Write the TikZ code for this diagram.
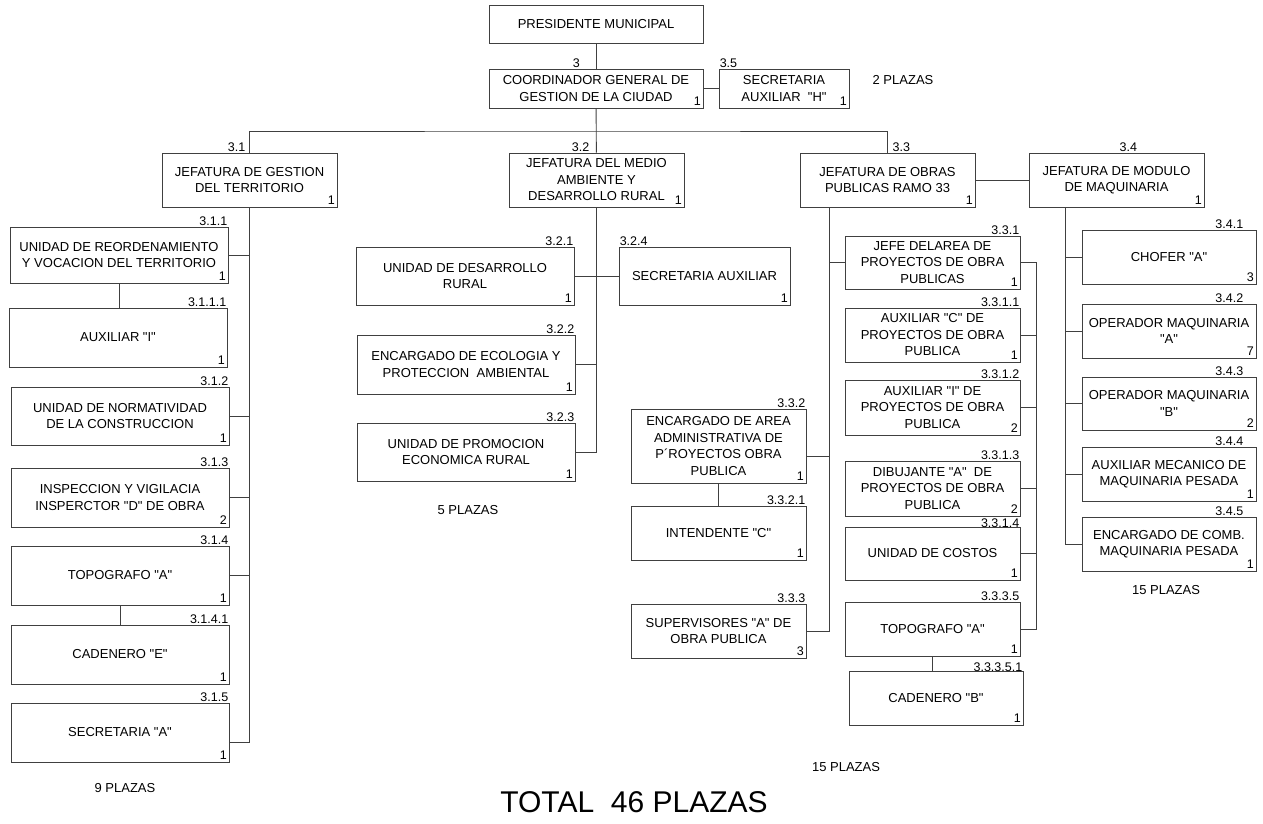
\documentclass[tikz,border=0pt]{standalone}
\usepackage{fontspec}
\setmainfont[Ligatures=TeXOff]{Liberation Sans}
\newcommand\cajafont{\fontsize{13}{16.5}\selectfont}
\newcommand\clavefont{\fontsize{12.5}{14}\selectfont}

\begin{document}
\begin{tikzpicture}[x=1pt,y=-1pt,
        caja/.style={draw=black!75,rectangle,line width=0.9pt,inner sep=2pt,align=center,font=\cajafont},
        ancha/.style={caja,minimum width=218pt,minimum height=58pt},
        corta/.style={caja,minimum width=175pt,minimum height=54pt},
        num/.style={anchor=south east,inner sep=2.5pt,font=\clavefont},
        clave/.style={anchor=south east,inner sep=1pt,font=\clavefont},
        nota/.style={font=\cajafont},
        linea/.style={draw=black!75,line width=0.9pt}
      ]
      \useasboundingbox (0,0) rectangle (1263,824);

      \node[caja,minimum width=214pt,minimum height=38pt] (pres) at (596,24) {PRESIDENTE MUNICIPAL};
      \node[caja,minimum width=214pt,minimum height=39pt,label={[num]south east:1},label={[clave,xshift=-15pt]north:3}] (coord) at (596,88.5) {COORDINADOR GENERAL DE\\GESTION DE LA CIUDAD};
      \node[caja,minimum width=130pt,minimum height=39pt,label={[num]south east:1},label={[clave,anchor=south west]north west:3.5}] (sech) at (784,88.5) {SECRETARIA\\AUXILIAR \ "H"};
      \node[nota] (p2) at (903,80) {2 PLAZAS};

      \node[corta,label={[num]south east:1},label={[clave,xshift=-3pt]north:3.1}] (j31) at (249.5,180) {JEFATURA DE GESTION\\DEL TERRITORIO};
      \node[corta,label={[num]south east:1},label={[clave,xshift=-6pt]north:3.2}] (j32) at (596.5,180) {JEFATURA DEL MEDIO\\AMBIENTE Y\\DESARROLLO RURAL};
      \node[corta,label={[num]south east:1},label={[clave,anchor=south west,xshift=4pt]north:3.3}] (j33) at (887.5,180) {JEFATURA DE OBRAS\\PUBLICAS RAMO 33};
      \node[corta,label={[num]south east:1},label={[clave,anchor=south west,xshift=2pt]north:3.4}] (j34) at (1116.5,180) {JEFATURA DE MODULO\\DE MAQUINARIA};

      \node[ancha,minimum height=56pt,label={[num]south east:1},label={[clave]north east:3.1.1}] (u311) at (119,255) {UNIDAD DE REORDENAMIENTO\\Y VOCACION DEL TERRITORIO};
      \node[ancha,minimum height=59pt,label={[num]south east:1},label={[clave]north east:3.1.1.1}] (u3111) at (118,337.5) {AUXILIAR "I"};
      \node[ancha,label={[num]south east:1},label={[clave]north east:3.1.2}] (u312) at (120,416) {UNIDAD DE NORMATIVIDAD\\DE LA CONSTRUCCION};
      \node[ancha,minimum height=59pt,label={[num]south east:2},label={[clave]north east:3.1.3}] (u313) at (120,497.5) {INSPECCION Y VIGILACIA\\INSPERCTOR "D" DE OBRA\hspace{8pt}};
      \node[ancha,minimum height=59pt,label={[num]south east:1},label={[clave]north east:3.1.4}] (u314) at (120,575.5) {TOPOGRAFO "A"};
      \node[ancha,minimum height=59pt,label={[num]south east:1},label={[clave]north east:3.1.4.1}] (u3141) at (120,654.5) {CADENERO "E"};
      \node[ancha,minimum height=59pt,label={[num]south east:1},label={[clave]north east:3.1.5}] (u315) at (120,732.5) {SECRETARIA "A"};
      \node[nota] (p9) at (125,788) {9 PLAZAS};

      \node[ancha,label={[num]south east:1},label={[clave]north east:3.2.1}] (u321) at (465,276) {UNIDAD DE DESARROLLO\\RURAL};
      \node[caja,minimum width=171pt,minimum height=58pt,label={[num]south east:1},label={[clave,anchor=south west]north west:3.2.4}] (u324) at (704.5,276) {SECRETARIA AUXILIAR};
      \node[ancha,minimum height=59pt,label={[num]south east:1},label={[clave]north east:3.2.2}] (u322) at (466,364.5) {ENCARGADO DE ECOLOGIA Y\\PROTECCION \ AMBIENTAL\hspace{6pt}};
      \node[ancha,label={[num]south east:1},label={[clave]north east:3.2.3}] (u323) at (466,452) {UNIDAD DE PROMOCION\\ECONOMICA RURAL};
      \node[nota] (p5) at (468,510) {5 PLAZAS};

      \node[corta,minimum height=74pt,label={[num]south east:1},label={[clave]north east:3.3.2}] (u332) at (718.5,446) {ENCARGADO DE AREA\\ADMINISTRATIVA DE\\P´ROYECTOS OBRA\\PUBLICA};
      \node[corta,label={[num]south east:1},label={[clave]north east:3.3.2.1}] (u3321) at (718.5,533) {INTENDENTE "C"};
      \node[corta,label={[num]south east:3},label={[clave]north east:3.3.3}] (u333) at (718.5,631) {SUPERVISORES "A" DE\\OBRA PUBLICA};

      \node[corta,minimum height=53pt,label={[num]south east:1},label={[clave]north east:3.3.1}] (u331) at (932.5,262.5) {JEFE DELAREA DE\\PROYECTOS DE OBRA\\PUBLICAS};
      \node[corta,label={[num]south east:1},label={[clave]north east:3.3.1.1}] (u3311) at (932.5,335) {AUXILIAR "C" DE\\PROYECTOS DE OBRA\\PUBLICA};
      \node[corta,minimum height=55pt,label={[num]south east:2},label={[clave]north east:3.3.1.2}] (u3312) at (932.5,407.5) {AUXILIAR "I" DE\\PROYECTOS DE OBRA\\PUBLICA};
      \node[corta,minimum height=55pt,label={[num]south east:2},label={[clave]north east:3.3.1.3}] (u3313) at (932.5,488.5) {DIBUJANTE "A" \ DE\\PROYECTOS DE OBRA\\PUBLICA};
      \node[corta,minimum height=53pt,label={[num]south east:1},label={[clave,yshift=-2pt]north east:3.3.1.4}] (u3314) at (932.5,553.5) {UNIDAD DE COSTOS};
      \node[corta,label={[num]south east:1},label={[clave]north east:3.3.3.5}] (u3335) at (932.5,629) {TOPOGRAFO "A"};
      \node[caja,minimum width=174pt,minimum height=54pt,label={[num]south east:1},label={[clave,yshift=-2pt]north east:3.3.3.5.1}] (u33351) at (936,698) {CADENERO "B"};
      \node[nota] (p15a) at (846,767) {15 PLAZAS};

      \node[caja,minimum width=174pt,minimum height=54pt,label={[num]south east:3},label={[clave,xshift=-12pt]north east:3.4.1}] (u341) at (1169,257) {CHOFER "A"};
      \node[caja,minimum width=174pt,minimum height=54pt,label={[num]south east:7},label={[clave,xshift=-12pt]north east:3.4.2}] (u342) at (1169,331) {OPERADOR MAQUINARIA\\"A"};
      \node[caja,minimum width=174pt,minimum height=53pt,label={[num]south east:2},label={[clave,xshift=-12pt]north east:3.4.3}] (u343) at (1169,403.5) {OPERADOR MAQUINARIA\\"B"};
      \node[caja,minimum width=174pt,minimum height=54pt,label={[num]south east:1},label={[clave,xshift=-12pt]north east:3.4.4}] (u344) at (1169,474) {AUXILIAR MECANICO DE\\MAQUINARIA PESADA};
      \node[caja,minimum width=174pt,minimum height=54pt,label={[num]south east:1},label={[clave,xshift=-12pt]north east:3.4.5}] (u345) at (1169,544) {ENCARGADO DE COMB.\\MAQUINARIA PESADA};
      \node[nota] (p15b) at (1166,590) {15 PLAZAS};

      \node[font=\fontsize{30}{34}\selectfont] (total) at (634,802) {TOTAL \ 46 PLAZAS};

      \coordinate (bus) at (596,131);
      \coordinate (t33) at (829,0);
      \coordinate (t331) at (1036,0);
      \coordinate (t34) at (1065,0);

      \draw[linea] (pres) -- (coord);
      \draw[linea] (coord) -- (sech);
      \draw[linea] (coord) -- (j32);
      \draw[linea] (j31.north) |- (bus) -| (j33.north);
      \draw[linea] (j33) -- (j34);

      \draw[linea] (j31.south) |- ([yshift=-10pt]u315.east);
      \foreach \n in {u311,u312,u313,u314}
        \draw[linea] (\n.east) -- (\n.east -| j31.south);
      \draw[linea] (u311.south) -- (u311.south |- u3111.north);
      \draw[linea] (u314.south) -- (u314.south |- u3141.north);

      \draw[linea] (j32.south) |- (u323.east);
      \draw[linea] (u321) -- (u324);
      \draw[linea] (u322.east) -- (u322.east -| j32.south);

      \draw[linea] (j33.south -| t33) |- (u333.east);
      \draw[linea] (u331.west) -- (u331.west -| t33);
      \draw[linea] ([yshift=-10pt]u332.east) -- ([yshift=-10pt]u332.east -| t33);
      \draw[linea] (u332.south) -- (u332.south |- u3321.north);
      \draw[linea] (u331.east) -- (u331.east -| t331) |- (u3335.east);
      \foreach \n in {u3311,u3312,u3313,u3314}
        \draw[linea] (\n.east) -- (\n.east -| t331);
      \draw[linea] (u3335.south) -- (u3335.south |- u33351.north);

      \draw[linea] (j34.south -| t34) |- (u345.west);
      \foreach \n in {u341,u342,u343,u344}
        \draw[linea] (\n.west) -- (\n.west -| t34);
    \end{tikzpicture}
\end{document}
